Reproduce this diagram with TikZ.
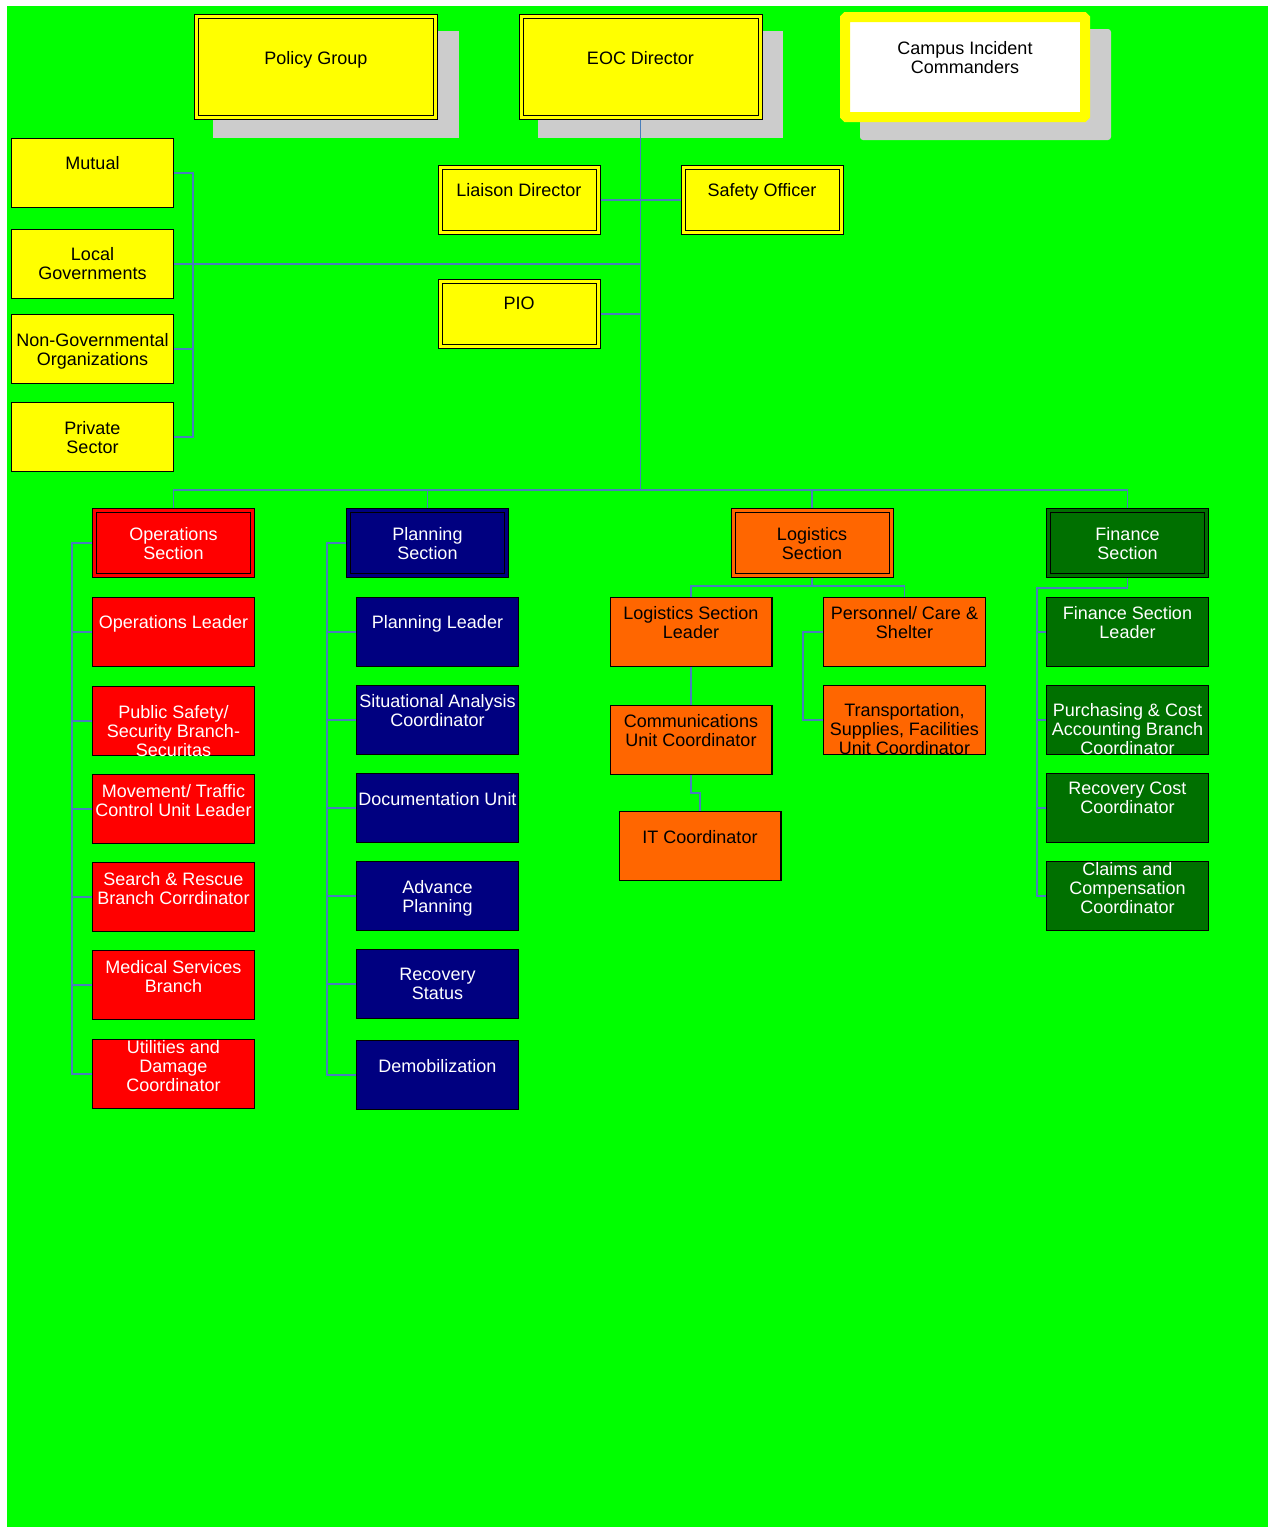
\documentclass[tikz,border=0pt]{standalone}
\usepackage{fontspec}
\setmainfont{Liberation Sans}
\usetikzlibrary{positioning,backgrounds}

\definecolor{bggreen}{RGB}{0,255,0}
\definecolor{boxyellow}{RGB}{255,255,0}
\definecolor{opsred}{RGB}{255,0,0}
\definecolor{plannavy}{RGB}{0,0,128}
\definecolor{logorange}{RGB}{255,102,0}
\definecolor{findark}{RGB}{0,112,0}
\definecolor{shadowgray}{RGB}{204,204,204}
\definecolor{linkblue}{RGB}{74,126,187}

\begin{document}
\begin{tikzpicture}[x=1pt, y=-1pt,
	box/.style={draw=black, line width=1.4pt, fill=#1, inner sep=0pt, minimum width=161.6pt, minimum height=68.6pt},
	dbox/.style={draw=black, line width=1pt, double=#1, double distance=3pt, fill=#1, inner sep=0pt, minimum width=158pt, minimum height=65pt},
	bigbox/.style={dbox=boxyellow, minimum width=239pt, minimum height=101pt},
	txt/.style={font=\fontsize{18}{19}\selectfont, align=center, inner sep=0pt, yshift=-1pt},
	wtxt/.style={txt, text=white},
	lnk/.style={draw=linkblue, line width=1.8pt},
	shadowfill/.style={fill=shadowgray}]
	\useasboundingbox (0,0) rectangle (1268,1527);

	% top row
	\node[bigbox] (policy) at (316,67) {};
	\node[txt, below=34pt of policy.north] (policy-t) {Policy Group};
	\node[bigbox] (eoc) at (640.5,67) {};
	\node[txt, below=34pt of eoc.north] (eoc-t) {EOC Director};
	\node[draw=boxyellow, line width=10pt, fill=white, rounded corners=1.5pt, minimum width=240pt, minimum height=100pt] (campus) at (965,67) {};
	\node[txt, below=28.5pt of campus.north] (campus-t) {Campus Incident\\Commanders};

	% outside partners
	\node[box=boxyellow] (mutual) at (92.5,173) {};
	\node[txt, below=17pt of mutual.north] (mutual-t) {Mutual};
	\node[box=boxyellow] (local) at (92.5,264) {};
	\node[txt, below=17pt of local.north] (local-t) {Local\\Governments};
	\node[box=boxyellow] (ngo) at (92.5,349) {};
	\node[txt, below=18pt of ngo.north] (ngo-t) {Non-Governmental\\Organizations};
	\node[box=boxyellow] (private) at (92.5,437) {};
	\node[txt, below=18pt of private.north] (private-t) {Private\\Sector};

	% command staff
	\node[dbox=boxyellow] (liaison) at (519,200) {};
	\node[txt, below=15pt of liaison.north] (liaison-t) {Liaison Director};
	\node[dbox=boxyellow] (safety) at (762,200) {};
	\node[txt, below=15pt of safety.north] (safety-t) {Safety Officer};
	\node[dbox=boxyellow] (pio) at (519,314) {};
	\node[txt, below=15pt of pio.north] (pio-t) {PIO};

	% sections
	\node[dbox=opsred] (ops) at (173.5,543) {};
	\node[wtxt, below=16pt of ops.north] (ops-t) {Operations\\Section};
	\node[dbox=plannavy] (plan) at (427.5,543) {};
	\node[wtxt, below=16pt of plan.north] (plan-t) {Planning\\Section};
	\node[dbox=logorange] (log) at (812,543) {};
	\node[txt, below=16pt of log.north] (log-t) {Logistics\\Section};
	\node[dbox=findark] (fin) at (1127.5,543) {};
	\node[wtxt, below=16pt of fin.north] (fin-t) {Finance\\Section};

	% operations
	\node[box=opsred] (ops1) at (173.5,632) {};
	\node[wtxt, below=17pt of ops1.north] (ops1-t) {Operations Leader};
	\node[box=opsred] (ops2) at (173.5,721) {};
	\node[wtxt, below=18pt of ops2.north] (ops2-t) {Public Safety/\\Security Branch-\\Securitas};
	\node[box=opsred] (ops3) at (173.5,809) {};
	\node[wtxt, below=9pt of ops3.north] (ops3-t) {Movement/ Traffic\\Control Unit Leader};
	\node[box=opsred] (ops4) at (173.5,897) {};
	\node[wtxt, below=9pt of ops4.north] (ops4-t) {Search \& Rescue\\Branch Corrdinator};
	\node[box=opsred] (ops5) at (173.5,985) {};
	\node[wtxt, below=9pt of ops5.north] (ops5-t) {Medical Services\\Branch};
	\node[box=opsred] (ops6) at (173.5,1074) {};
	\node[wtxt, below=0pt of ops6.north] (ops6-t) {Utilities and\\Damage\\Coordinator};

	% planning
	\node[box=plannavy] (plan1) at (437.5,632) {};
	\node[wtxt, below=17pt of plan1.north] (plan1-t) {Planning Leader};
	\node[box=plannavy] (plan2) at (437.5,720) {};
	\node[wtxt, below=8pt of plan2.north] (plan2-t) {Situational Analysis\\Coordinator};
	\node[box=plannavy] (plan3) at (437.5,808) {};
	\node[wtxt, below=18pt of plan3.north] (plan3-t) {Documentation Unit};
	\node[box=plannavy] (plan4) at (437.5,896) {};
	\node[wtxt, below=18pt of plan4.north] (plan4-t) {Advance\\Planning};
	\node[box=plannavy] (plan5) at (437.5,984) {};
	\node[wtxt, below=18pt of plan5.north] (plan5-t) {Recovery\\Status};
	\node[box=plannavy] (plan6) at (437.5,1075) {};
	\node[wtxt, below=18pt of plan6.north] (plan6-t) {Demobilization};

	% logistics
	\node[box=logorange] (lsl) at (691,632) {};
	\node[txt, below=8pt of lsl.north] (lsl-t) {Logistics Section\\Leader};
	\node[box=logorange] (pers) at (904.5,632) {};
	\node[txt, below=8pt of pers.north] (pers-t) {Personnel/ Care \&\\Shelter};
	\node[box=logorange] (comm) at (691,740) {};
	\node[txt, below=8pt of comm.north] (comm-t) {Communications\\Unit Coordinator};
	\node[box=logorange] (it) at (700,846) {};
	\node[txt, below=18pt of it.north] (it-t) {IT Coordinator};
	\node[box=logorange] (trans) at (904.5,720) {};
	\node[txt, below=17pt of trans.north] (trans-t) {Transportation,\\Supplies, Facilities\\Unit Coordinator};

	% finance
	\node[box=findark] (fin1) at (1127.5,632) {};
	\node[wtxt, below=8pt of fin1.north] (fin1-t) {Finance Section\\Leader};
	\node[box=findark] (fin2) at (1127.5,720) {};
	\node[wtxt, below=17pt of fin2.north] (fin2-t) {Purchasing \& Cost\\Accounting Branch\\Coordinator};
	\node[box=findark] (fin3) at (1127.5,808) {};
	\node[wtxt, below=8pt of fin3.north] (fin3-t) {Recovery Cost\\Coordinator};
	\node[box=findark] (fin4) at (1127.5,896) {};
	\node[wtxt, below=0pt of fin4.north] (fin4-t) {Claims and\\Compensation\\Coordinator};

	\coordinate (bus) at (640.5,490);
	\coordinate (mbus) at (193,264);
	\coordinate (opsrail) at (72,543);
	\coordinate (planrail) at (327,543);
	\coordinate (logjoin) at (812,586);
	\coordinate (finrail) at (1037,588);

	\begin{scope}[on background layer]
		\fill[bggreen] (7,6) rectangle (1268,1527);
		\fill[shadowfill] (213,31) rectangle (459,138);
		\fill[shadowfill] (538,31) rectangle (783,138);
		\fill[shadowfill, rounded corners=3pt] (860,29) rectangle (1111,140);

		% connectors
		\draw[lnk] (eoc.south) -- (bus);
		\draw[lnk] (ops.north) |- (bus) -| (fin.north);
		\draw[lnk] (plan.north) -- (plan.north |- bus);
		\draw[lnk] (log.north) -- (log.north |- bus);
		\draw[lnk] (liaison.east) -- (safety.west);
		\draw[lnk] (pio.east) -- (pio.east -| eoc.south);
		\draw[lnk] (local.east) -- (local.east -| eoc.south);
		\draw[lnk] (mutual.east) -| (mbus) |- (private.east);
		\draw[lnk] (ngo.east) -- (ngo.east -| mbus);

		\draw[lnk] (ops.west) -- (opsrail) |- (ops6.west);
		\foreach \n in {ops1,ops2,ops3,ops4,ops5}
			\draw[lnk] (\n.west) -- (\n.west -| opsrail);
		\draw[lnk] (plan.west) -- (planrail) |- (plan6.west);
		\foreach \n in {plan1,plan2,plan3,plan4,plan5}
			\draw[lnk] (\n.west) -- (\n.west -| planrail);

		\draw[lnk] (log.south) -- (logjoin);
		\draw[lnk] (lsl.north) |- (logjoin) -| (pers.north);
		\draw[lnk] (lsl.south) -- (comm.north);
		\draw[lnk] (comm.south) -- ++(0,18) -| (it.north);
		\draw[lnk] (pers.west) -- ++(-20,0) |- (trans.west);

		\draw[lnk] (fin.south) |- (finrail) |- (fin4.west);
		\foreach \n in {fin1,fin2,fin3}
			\draw[lnk] (\n.west) -- (\n.west -| finrail);
	\end{scope}
\end{tikzpicture}
\end{document}
